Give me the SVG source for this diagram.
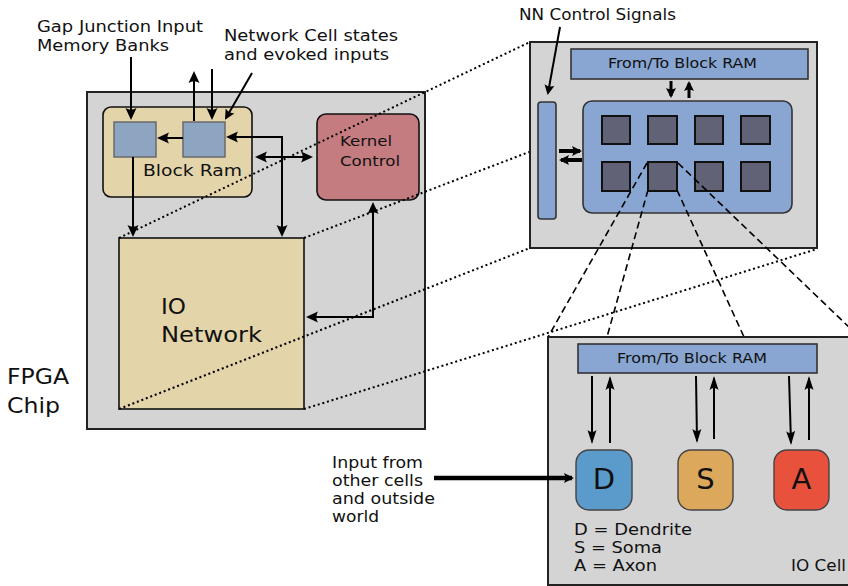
<svg xmlns="http://www.w3.org/2000/svg" width="848" height="586" viewBox="0 0 848 586">
  <style>
    text { font-family: "DejaVu Sans", "Liberation Sans", sans-serif; fill: #111; }
    .chip { fill: #d4d4d4; stroke: #222; stroke-width: 2; }
    .beige { fill: #e4d4aa; stroke: #111; stroke-width: 1.6; }
    .mem { fill: #8ea5c1; stroke: #6a6a6a; stroke-width: 1.5; }
    .kernel { fill: #c47c80; stroke: #111; stroke-width: 1.6; }
    .blue { fill: #88a6d1; stroke: #333; stroke-width: 1.6; }
    .pe { fill: #626277; stroke: #111; stroke-width: 2; }
    .wire { fill: none; stroke: #000; stroke-width: 2; }
    .bus { fill: none; stroke: #000; stroke-width: 3; }
    .thick { fill: none; stroke: #000; stroke-width: 4; }
    .dotted { fill: none; stroke: #000; stroke-width: 2; stroke-dasharray: 2 2.8; }
    .dashed { fill: none; stroke: #000; stroke-width: 1.6; stroke-dasharray: 7 4; }
  </style>
  <defs>
    <marker id="ah" viewBox="-12 -7 15 14" refX="0" refY="0" markerWidth="15" markerHeight="14" markerUnits="userSpaceOnUse" orient="auto-start-reverse">
      <path d="M2,0 L-10,-5.5 Q-6.5,0 -10,5.5 Z" fill="#000"/>
    </marker>
    <marker id="ahn" viewBox="-14 -6 17 12" refX="0" refY="0" markerWidth="17" markerHeight="12" markerUnits="userSpaceOnUse" orient="auto-start-reverse">
      <path d="M2,0 L-12,-4.5 Q-8,0 -12,4.5 Z" fill="#000"/>
    </marker>
    <marker id="ahb" viewBox="-10 -6 13 12" refX="0" refY="0" markerWidth="13" markerHeight="12" markerUnits="userSpaceOnUse" orient="auto-start-reverse">
      <path d="M2,0 L-8,-5 Q-5.5,0 -8,5 Z" fill="#000"/>
    </marker>
  </defs>

  <!-- FPGA chip -->
  <g id="fpga-chip">
    <rect class="chip" x="87" y="92" width="338" height="337"/>
    <text x="7" y="384" font-size="21.5" textLength="62" lengthAdjust="spacingAndGlyphs">FPGA</text>
    <text x="7" y="413" font-size="21.5" textLength="53" lengthAdjust="spacingAndGlyphs">Chip</text>
  </g>

  <g id="block-ram">
    <rect class="beige" x="103" y="107" width="149" height="90" rx="8"/>
    <rect class="mem" x="114" y="122" width="42" height="35"/>
    <rect class="mem" x="183" y="122" width="42" height="35"/>
    <text x="143" y="176" font-size="16.7" textLength="99" lengthAdjust="spacingAndGlyphs">Block Ram</text>
  </g>

  <g id="kernel-control">
    <rect class="kernel" x="317" y="114" width="102" height="86" rx="9"/>
    <text x="340" y="146" font-size="14.7" textLength="52" lengthAdjust="spacingAndGlyphs">Kernel</text>
    <text x="340" y="166" font-size="14.7" textLength="60" lengthAdjust="spacingAndGlyphs">Control</text>
  </g>

  <g id="io-network">
    <rect class="beige" x="119" y="238" width="185" height="171"/>
    <text x="161" y="314" font-size="22" textLength="25" lengthAdjust="spacingAndGlyphs">IO</text>
    <text x="161" y="342" font-size="22" textLength="101" lengthAdjust="spacingAndGlyphs">Network</text>
  </g>

  <g id="labels">
    <text x="37" y="32" font-size="16" textLength="166" lengthAdjust="spacingAndGlyphs">Gap Junction Input</text>
    <text x="37" y="51" font-size="16" textLength="132" lengthAdjust="spacingAndGlyphs">Memory Banks</text>
    <text x="224" y="41" font-size="16" textLength="174" lengthAdjust="spacingAndGlyphs">Network Cell states</text>
    <text x="224" y="60" font-size="16" textLength="165" lengthAdjust="spacingAndGlyphs">and evoked inputs</text>
    <text x="519" y="20" font-size="15" textLength="157" lengthAdjust="spacingAndGlyphs">NN Control Signals</text>
    <text x="332" y="468" font-size="15.5" textLength="91" lengthAdjust="spacingAndGlyphs">Input from</text>
    <text x="332" y="486" font-size="15.5" textLength="91" lengthAdjust="spacingAndGlyphs">other cells</text>
    <text x="332" y="504" font-size="15.5" textLength="103" lengthAdjust="spacingAndGlyphs">and outside</text>
    <text x="332" y="522" font-size="15.5" textLength="47" lengthAdjust="spacingAndGlyphs">world</text>
  </g>

  <!-- arrows inside the chip -->
  <g id="connectors">
    <path class="wire" d="M131,57 V118" marker-end="url(#ah)"/>
    <path class="wire" d="M194,121 V73" marker-end="url(#ah)"/>
    <path class="wire" d="M212,69 V118" marker-end="url(#ah)"/>
    <path class="wire" d="M252,73 L226,118" marker-end="url(#ahb)"/>
    <path class="wire" d="M183,138 H159" marker-end="url(#ah)"/>
    <path class="wire" d="M228,137 H282 V235" marker-start="url(#ah)" marker-end="url(#ah)"/>
    <path class="wire" d="M257,157 H311" marker-start="url(#ah)" marker-end="url(#ah)"/>
    <path class="wire" d="M133,157 V235" marker-end="url(#ah)"/>
    <path class="wire" d="M308,317 H373 V204" marker-start="url(#ah)" marker-end="url(#ah)"/>
  </g>

  <!-- projection lines from the IO network to the block diagram -->
  <g id="zoom-lines">
    <path class="dotted" d="M119,238 L530,42"/>
    <path class="dotted" d="M304,238 L817,42"/>
    <path class="dotted" d="M119,409 L530,248"/>
    <path class="dotted" d="M304,409 L817,249"/>
  </g>

  <g id="nn-block">
    <rect class="chip" x="530" y="42" width="287" height="206"/>
    <rect class="blue" x="571" y="49" width="237" height="30"/>
    <text x="608" y="68" font-size="13.7" textLength="149" lengthAdjust="spacingAndGlyphs">From/To Block RAM</text>
    <rect class="blue" x="538" y="102" width="18" height="117" rx="3"/>
    <rect class="blue" x="583" y="101" width="209" height="112" rx="9"/>
    <rect class="pe" x="602" y="116" width="28" height="28"/>
    <rect class="pe" x="648" y="116" width="29" height="28"/>
    <rect class="pe" x="695" y="116" width="28" height="28"/>
    <rect class="pe" x="741" y="116" width="29" height="28"/>
    <rect class="pe" x="602" y="162" width="28" height="29"/>
    <rect class="pe" x="648" y="162" width="29" height="29"/>
    <rect class="pe" x="695" y="162" width="28" height="29"/>
    <rect class="pe" x="741" y="162" width="29" height="29"/>
  </g>

  <g id="nn-connectors">
    <path class="wire" d="M560,27 L548,93" marker-end="url(#ahb)"/>
    <path class="bus" d="M671,81 V96" marker-end="url(#ahb)"/>
    <path class="bus" d="M689,98 V83" marker-end="url(#ahb)"/>
    <path class="thick" d="M559,151 H580" marker-end="url(#ahb)"/>
    <path class="thick" d="M582,160 H561" marker-end="url(#ahb)"/>
    <path class="dashed" d="M647,163 L548,337"/>
    <path class="dashed" d="M648,190 L607,337"/>
    <path class="dashed" d="M677,190 L744,337"/>
    <path class="dashed" d="M678,163 L852,330"/>
  </g>

  <g id="io-cell">
    <rect class="chip" x="548" y="337" width="310" height="248"/>
    <rect class="blue" x="578" y="344" width="239" height="29"/>
    <text x="617" y="363" font-size="13.7" textLength="150" lengthAdjust="spacingAndGlyphs">From/To Block RAM</text>
    <text x="574" y="535" font-size="15.5" textLength="118" lengthAdjust="spacingAndGlyphs">D = Dendrite</text>
    <text x="574" y="553" font-size="15.5" textLength="88" lengthAdjust="spacingAndGlyphs">S = Soma</text>
    <text x="574" y="571" font-size="15.5" textLength="83" lengthAdjust="spacingAndGlyphs">A = Axon</text>
    <text x="791" y="571" font-size="15" textLength="55" lengthAdjust="spacingAndGlyphs">IO Cell</text>
  </g>

  <g id="dendrite">
    <rect x="576" y="450" width="56" height="60" rx="13" fill="#5b9bcb" stroke="#444" stroke-width="1.4"/>
    <text x="604" y="489" font-size="29" text-anchor="middle">D</text>
  </g>
  <g id="soma">
    <rect x="678" y="450" width="55" height="60" rx="13" fill="#dba85c" stroke="#444" stroke-width="1.4"/>
    <text x="705.5" y="489" font-size="29" text-anchor="middle">S</text>
  </g>
  <g id="axon">
    <rect x="774" y="450" width="55" height="60" rx="13" fill="#e8513b" stroke="#444" stroke-width="1.4"/>
    <text x="801.5" y="489" font-size="29" text-anchor="middle">A</text>
  </g>

  <g id="cell-connectors">
    <path class="wire" d="M592,376 V442" marker-end="url(#ahn)"/>
    <path class="wire" d="M610,443 V378" marker-end="url(#ahn)"/>
    <path class="wire" d="M696,376 L697,441" marker-end="url(#ahn)"/>
    <path class="wire" d="M714,439 V378" marker-end="url(#ahn)"/>
    <path class="wire" d="M789,376 L791,443" marker-end="url(#ahn)"/>
    <path class="wire" d="M809,440 V378" marker-end="url(#ahn)"/>
    <path d="M434,478 H572" fill="none" stroke="#000" stroke-width="4.5" marker-end="url(#ahb)"/>
  </g>
</svg>
